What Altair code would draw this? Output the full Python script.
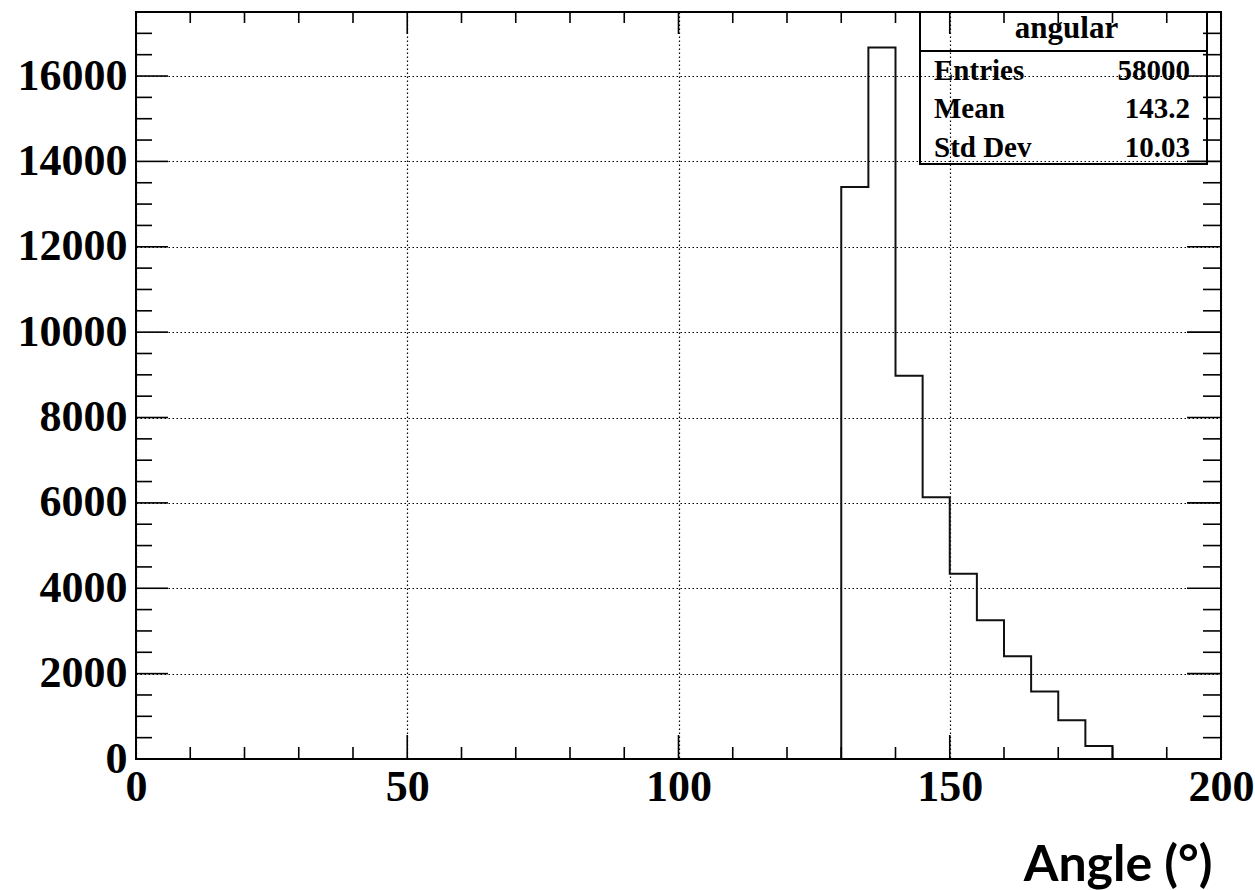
import altair as alt
import pandas as pd

# ---- data ----
bin_low = [130, 135, 140, 145, 150, 155, 160, 165, 170, 175]
bin_width = 5
counts = [13400, 16670, 8980, 6130, 4340, 3250, 2410, 1580, 905, 305]

x_labels = [0, 50, 100, 150, 200]
y_labels = [0, 2000, 4000, 6000, 8000, 10000, 12000, 14000, 16000]
x_minor = [v for v in range(0, 201, 10) if v not in x_labels]
y_minor = [v for v in range(0, 17001, 500) if v not in y_labels]

stat_title = "angular"
stat_names = ["Entries", "Mean", "Std Dev"]
stat_values = ["58000", "143.2", "10.03"]

W, H = 1085, 747
SERIF = "Liberation Serif"

# step outline of the histogram
xs = [bin_low[0]] + bin_low + [bin_low[-1] + bin_width]
ys = [0] + counts + [0]
hist_df = pd.DataFrame({"x": xs, "y": ys, "i": list(range(len(xs)))})

x_scale = alt.Scale(domain=[0, 200], nice=False, zero=False)
y_scale = alt.Scale(domain=[0, 17500], nice=False)

x_axis = alt.Axis(
    values=x_labels, format="d", grid=True, gridColor="black", gridDash=[1.5, 2.5],
    gridWidth=1.2, ticks=False, domain=False,
    labelFont=SERIF, labelFontWeight="bold", labelFontSize=44, labelColor="black",
    labelPadding=6, labelFlush=False, labelOverlap=False,
    title="Angle (°)", titleFont="Lato", titleFontWeight="bold", titleFontSize=50,
    titleColor="black", titleAnchor="end", titleAlign="right",
    titleX=1076, titleY=121, titleBaseline="alphabetic",
)
y_axis = alt.Axis(
    values=y_labels, format="d", grid=True, gridColor="black", gridDash=[1.5, 2.5],
    gridWidth=1.2, ticks=False, domain=False,
    labelFont=SERIF, labelFontWeight="bold", labelFontSize=44, labelColor="black",
    labelPadding=9, labelFlush=False, labelOverlap=False, title=None,
)

hist = alt.Chart(hist_df).mark_line(
    interpolate="step-after", color="#111111", strokeWidth=2
).encode(
    x=alt.X("x:Q", scale=x_scale, axis=x_axis),
    y=alt.Y("y:Q", scale=y_scale, axis=y_axis),
    order="i:Q",
)

# inward pointing ticks (ROOT style) on all four sides
def xticks(vals, length_bottom, length_top):
    df = pd.DataFrame({"v": vals})
    base = alt.Chart(df)
    b = base.mark_rule(color="black", strokeWidth=1.6).encode(
        x=alt.X("v:Q", scale=x_scale), y=alt.value(H), y2=alt.value(H - length_bottom))
    t = base.mark_rule(color="black", strokeWidth=1.6).encode(
        x=alt.X("v:Q", scale=x_scale), y=alt.value(0), y2=alt.value(length_top))
    return [b, t]

def yticks(vals, length_left, length_right):
    df = pd.DataFrame({"v": vals})
    base = alt.Chart(df)
    l = base.mark_rule(color="black", strokeWidth=1.6).encode(
        y=alt.Y("v:Q", scale=y_scale), x=alt.value(0), x2=alt.value(length_left))
    r = base.mark_rule(color="black", strokeWidth=1.6).encode(
        y=alt.Y("v:Q", scale=y_scale), x=alt.value(W), x2=alt.value(W - length_right))
    return [l, r]

tick_layers = (xticks(x_labels, 24, 22) + xticks(x_minor, 12, 11)
               + yticks(y_labels, 32, 34) + yticks(y_minor, 16, 18))

# statistics box
BX0, BX1, BY0, BY1, BSEP = 784, 1071, 0, 152, 39
box_df = pd.DataFrame({"d": [0]})
box = alt.Chart(box_df).mark_rect(
    fillOpacity=0, stroke="black", strokeWidth=2
).encode(x=alt.value(BX0), x2=alt.value(BX1), y=alt.value(BY0), y2=alt.value(BY1))
sep = alt.Chart(box_df).mark_rule(color="black", strokeWidth=2).encode(
    x=alt.value(BX0), x2=alt.value(BX1), y=alt.value(BSEP))

texts = [
    alt.Chart(pd.DataFrame({"t": [stat_title]})).mark_text(
        font=SERIF, fontWeight="bold", fontSize=31, color="black",
        align="center", baseline="alphabetic"
    ).encode(text="t:N", x=alt.value((BX0 + BX1) / 2 + 3), y=alt.value(26))
]
row_y = [68, 106, 145]
for name, val, yy in zip(stat_names, stat_values, row_y):
    d = pd.DataFrame({"n": [name], "v": [val]})
    texts.append(alt.Chart(d).mark_text(
        font=SERIF, fontWeight="bold", fontSize=29, color="black",
        align="left", baseline="alphabetic"
    ).encode(text="n:N", x=alt.value(BX0 + 14), y=alt.value(yy)))
    texts.append(alt.Chart(d).mark_text(
        font=SERIF, fontWeight="bold", fontSize=29, color="black",
        align="right", baseline="alphabetic"
    ).encode(text="v:N", x=alt.value(BX1 - 17), y=alt.value(yy)))

chart = alt.layer(hist, *tick_layers, box, sep, *texts).properties(
    width=W, height=H,
    padding={"left": 136, "top": 12, "right": 34, "bottom": 131},
    autosize=alt.AutoSizeParams(type="none"),
    background="white",
).configure_view(
    stroke="black", strokeWidth=2
)

chart.save("out.html", embed_options={"renderer": "svg", "actions": False})
